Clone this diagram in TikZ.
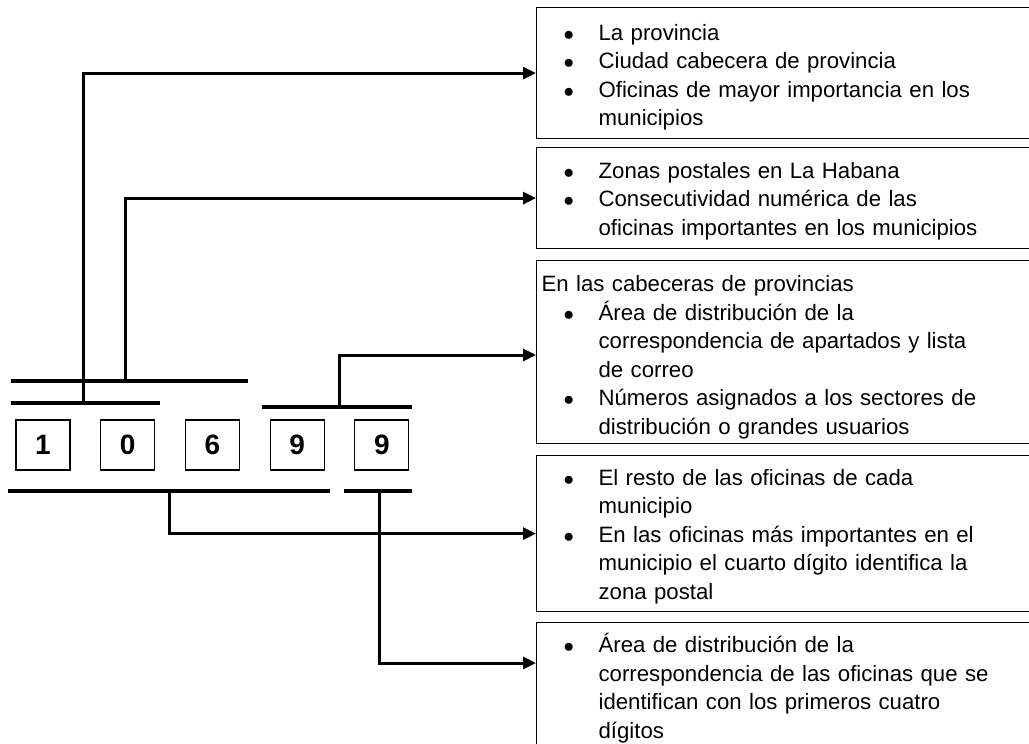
\documentclass[tikz,border=0pt]{standalone}
\usepackage{fontspec}
\setmainfont{Liberation Sans}
\usepackage{array}
\usetikzlibrary{positioning,arrows.meta}
\newcommand{\bul}{\hspace*{22pt}$\bullet$}
\newcommand{\lowered}[2][4pt]{\raisebox{-#1}[\height][\depth]{#2}}
\begin{document}
\begin{tikzpicture}[x=1pt,y=-1pt,line join=miter,
	digit/.style={draw,line width=1.2pt,minimum width=54pt,minimum height=50pt,inner sep=0pt,font=\fontsize{28}{32}\selectfont\bfseries},
	note/.style={draw,line width=1.2pt,anchor=north west,text width=500pt,inner xsep=5pt,inner ysep=0pt,align=left,font=\fontsize{22.2}{28.5}\selectfont},
	bar/.style={line width=3.8pt},
	link/.style={line width=3pt,-{Triangle[length=13pt,width=12pt]}}]
	\useasboundingbox (0,0) rectangle (1029,744);
	\clip (0,0) rectangle (1029,744);
	% the five digits
	\node[digit] (d1) at (43,445) {1};
	\node[digit,right=29.5pt of d1] (d2) {0};
	\node[digit,right=29.5pt of d2] (d3) {6};
	\node[digit,right=29.5pt of d3] (d4) {9};
	\node[digit,right=29.5pt of d4] (d5) {9};
	% brackets above and below
	\draw[bar] (11,381) -- (248,381);
	\draw[bar] (11,403) -- (160,403);
	\draw[bar] (262,407) -- (412,407);
	\draw[bar] (8,491) -- (330,491);
	\draw[bar] (344,491) -- (412,491);
	\coordinate (s1) at (83,403);
	\coordinate (s2) at (125,381);
	\coordinate (s3) at (339,407);
	\coordinate (s4) at (169,491);
	\coordinate (s5) at (379,491);
	% boxes
	\node[note,minimum height=131pt] (t1) at (536,7) {\lowered{\begin{tabular}{@{}p{57pt}@{}l@{}}
		\bul & La provincia\\
		\bul & Ciudad cabecera de provincia\\
		\bul & Oficinas de mayor importancia en los\\
		& municipios
	\end{tabular}}};
	\node[note,minimum height=101pt] (t2) at (536,147) {\lowered[3pt]{\begin{tabular}{@{}p{57pt}@{}l@{}}
		\bul & Zonas postales en La Habana\\
		\bul & Consecutividad numérica de las\\
		& oficinas importantes en los municipios
	\end{tabular}}};
	\node[note,minimum height=183pt] (t3) at (536,260) {\lowered[5pt]{\begin{tabular}{@{}p{57pt}@{}l@{}}
		\multicolumn{2}{@{}l@{}}{En las cabeceras de provincias}\\
		\bul & Área de distribución de la\\
		& correspondencia de apartados y lista\\
		& de correo\\
		\bul & Números asignados a los sectores de\\
		& distribución o grandes usuarios
	\end{tabular}}};
	\node[note,minimum height=156pt] (t4) at (536,455) {\lowered[3pt]{\begin{tabular}{@{}p{57pt}@{}l@{}}
		\bul & El resto de las oficinas de cada\\
		& municipio\\
		\bul & En las oficinas más importantes en el\\
		& municipio el cuarto dígito identifica la\\
		& zona postal
	\end{tabular}}};
	\node[note,minimum height=134pt] (t5) at (536,622) {\lowered[0pt]{\begin{tabular}{@{}p{57pt}@{}l@{}}
		\bul & Área de distribución de la\\
		& correspondencia de las oficinas que se\\
		& identifican con los primeros cuatro\\
		& dígitos
	\end{tabular}}};
	% arrows
	\draw[link] (s1) |- (t1.west);
	\draw[link] (s2) |- (t2.west);
	\draw[link] (s3) |- ([yshift=-95pt]t3.north west);
	\draw[link] (s4) |- (t4.west);
	\draw[link] (s5) |- ([yshift=-41pt]t5.north west);
\end{tikzpicture}
\end{document}
